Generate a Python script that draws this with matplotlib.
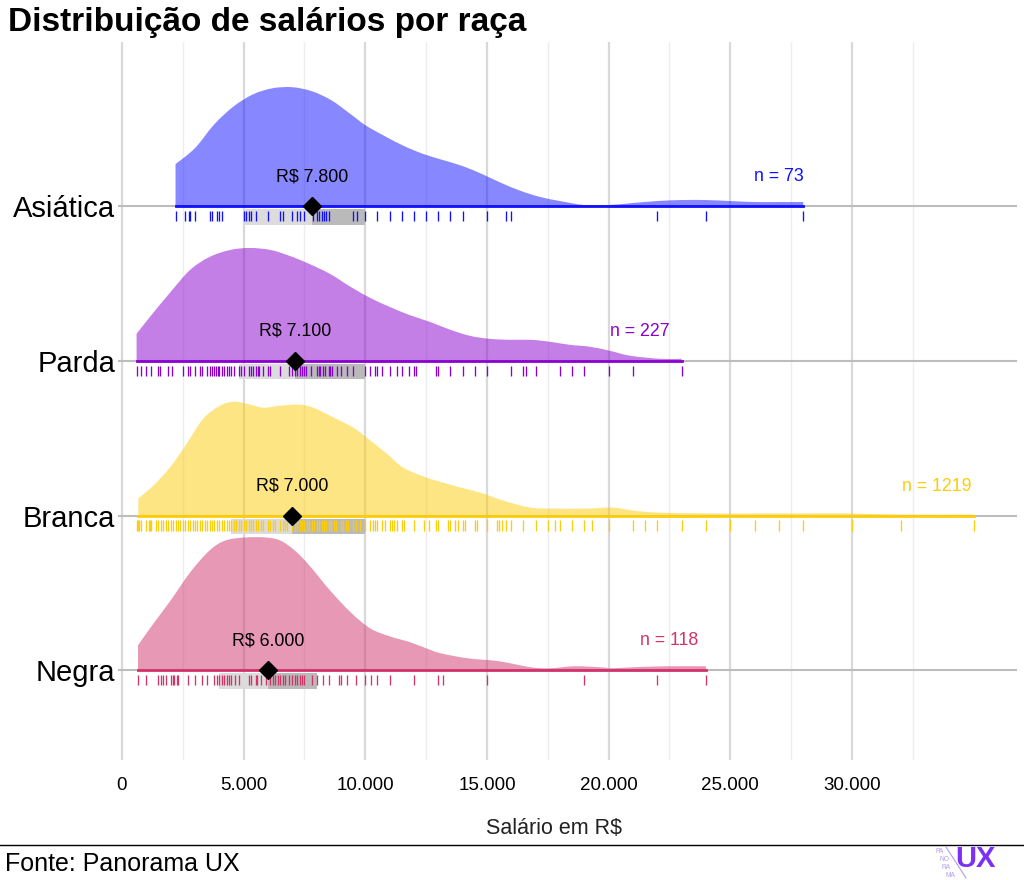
import matplotlib.pyplot as plt
from matplotlib.lines import Line2D
from matplotlib.path import Path
from matplotlib.patches import PathPatch
import numpy as np

plt.rcParams['font.family'] = ['Liberation Sans', 'DejaVu Sans']

# categorias de baixo para cima
racas = ['Negra', 'Branca', 'Parda', 'Asiática']
cores = ['#d1336b', '#fdcc0a', '#8a00d0', '#1010ff']
n_resp = [118, 1219, 227, 73]
medianas = [6000, 7000, 7100, 7800]
q1 = [4000, 4500, 4800, 5000]
q3 = [8000, 10000, 10000, 10000]
n_label_x = [22500, 33500, 21300, 27000]

# curvas de densidade (salário, altura relativa)
dens_x = {
    'Asiática': [2200, 3000, 3800, 4600, 5400, 6200, 7000, 7800, 8600, 9400, 10000, 10800,
                 11600, 12400, 13200, 14000, 14800, 15600, 16400, 17200, 18000, 19000,
                 20000, 21000, 22000, 23000, 24000, 25000, 26000, 27000, 28000],
    'Parda': [600, 1150, 2000, 2800, 3600, 4450, 5250, 6100, 6900, 7700, 8550, 9400, 10200,
              11000, 11800, 12650, 13500, 14300, 15100, 15950, 16800, 17600, 18400, 19250,
              20050, 20900, 22100, 23000],
    'Branca': [670, 1290, 1970, 2660, 3340, 4030, 4580, 5120, 5810, 6490, 7320, 7860, 8550,
               9510, 10060, 10880, 11560, 12520, 13620, 14710, 15670, 16770, 17730, 19100,
               20190, 21000, 22000, 24000, 26000, 28000, 30000, 32000, 35000],
    'Negra': [660, 1150, 2000, 2800, 3600, 4250, 5050, 5900, 6500, 7100, 7700, 8550, 9400,
              10200, 11000, 11850, 12500, 13100, 14200, 15500, 16800, 17600, 18600, 19650,
              20100, 21000, 22400, 24000],
}
dens_y = {
    'Asiática': [42, 58, 82, 100, 112, 118, 119, 115, 106, 92, 81, 70, 60, 52, 46, 40, 32,
                 23, 15, 9, 5, 1, 1, 3, 5, 6, 6, 5, 4, 4, 4],
    'Parda': [27, 44, 69, 91, 104, 111, 113, 111, 105, 97, 87, 74, 63, 54, 46, 39, 31, 25,
              22, 21, 21, 19, 16, 14, 10, 5, 2, 2],
    'Branca': [17, 30, 48, 72, 97, 110, 114, 112, 108, 110, 111, 108, 100, 88, 78, 62, 48,
               38, 30, 23, 15, 8, 7, 7, 8, 5, 3, 2, 2, 2, 2, 1, 1],
    'Negra': [25, 42, 70, 98, 120, 130, 133, 133, 130, 120, 105, 80, 58, 42, 34, 28, 22,
              17, 12, 9, 3, 2, 4, 3, 2, 3, 4, 4],
}

# salários individuais (rug)
rug = {
    'Asiática': [2200, 2600, 2750, 2800, 3000, 3600, 3700, 3900, 4000, 4100, 5000, 5100, 5200,
                 5300, 5500, 6000, 6500, 6600, 7000, 7200, 7300, 7500, 7850, 8000, 8100, 8200,
                 8300, 8400, 8500, 9500, 9650, 10000, 10500, 11000, 11500, 12000, 12500, 13000,
                 13500, 14000, 15000, 15800, 16000, 22000, 24000, 28000],
    'Parda': [600, 800, 1000, 1200, 1500, 1550, 1900, 2050, 2500, 2700, 2800, 3000, 3200,
              3300, 3500, 3600, 3700, 3800, 3850, 3950, 4000, 4100, 4200, 4300, 4400, 4500,
              4600, 4800, 4900, 5000, 5200, 5300, 5400, 5500, 5600, 5650, 5800, 6000, 6100,
              6500, 6850, 7000, 7100, 7200, 7300, 7400, 7500, 7550, 7750, 8000, 8100, 8150,
              8250, 8350, 8500, 8550, 8650, 8850, 9000, 9250, 9500, 10000, 10200, 10400,
              10500, 10700, 11000, 11300, 11500, 11800, 12000, 12100, 12900, 13000, 13500,
              14000, 14500, 15000, 16000, 16500, 16600, 17000, 18000, 18500, 19000, 20000,
              21000, 23000],
    'Branca': [600, 650, 700, 800, 1000, 1100, 1150, 1200, 1400, 1500, 1600, 1700, 1800, 1900,
               2000, 2100, 2200, 2300, 2400, 2500, 2600, 2700, 2800, 2900, 3000, 3100, 3200,
               3300, 3400, 3500, 3600, 3700, 3800, 3900, 4000, 4100, 4200, 4300, 4400, 4500,
               4600, 4700, 4800, 4900, 5000, 5100, 5200, 5300, 5400, 5500, 5600, 5700, 5800,
               6000, 6100, 6200, 6300, 6500, 6600, 6700, 6800, 7000, 7100, 7200, 7300, 7400,
               7500, 7600, 7700, 7800, 7900, 8000, 8100, 8200, 8300, 8400, 8500, 8600, 8700,
               8800, 9000, 9100, 9200, 9300, 9500, 9600, 9800, 10000, 10200, 10300, 10400,
               10500, 10700, 10800, 11000, 11100, 11200, 11300, 11500, 11600, 12000, 12400,
               12600, 12900, 13000, 13400, 13500, 13700, 13800, 14000, 14100, 14500, 14600,
               15000, 15400, 15500, 15600, 15800, 16000, 16500, 17000, 17500, 17800, 18000,
               18500, 19000, 19300, 20000, 21000, 21500, 22000, 23000, 24000, 25000, 26000,
               27000, 28000, 30000, 32000, 35000],
    'Negra': [650, 1000, 1500, 1600, 1700, 1800, 2000, 2100, 2150, 2250, 2300, 2700, 3000,
              3300, 3500, 3800, 3900, 4000, 4100, 4200, 4300, 4400, 4500, 4650, 4800, 5200,
              5300, 5500, 5550, 5700, 5900, 6100, 6200, 6300, 6400, 6500, 6600, 6700, 6850,
              7000, 7100, 7200, 7300, 7400, 7500, 7800, 8000, 8250, 8500, 8900, 9000, 9250,
              9600, 10000, 10250, 10500, 11000, 12000, 13000, 13200, 15000, 19000, 22000,
              24000],
}


def fmt(v):
    return f'{v:,.0f}'.replace(',', '.')


def ridge_path(xs, ys, base):
    # contorno suave (Catmull-Rom -> Bézier) fechado na linha de base
    pts = np.column_stack([xs, base + ys])
    verts = [(xs[0], base), tuple(pts[0])]
    codes = [Path.MOVETO, Path.LINETO]
    n = len(pts)
    for k in range(n - 1):
        p0 = pts[max(k - 1, 0)]
        p1 = pts[k]
        p2 = pts[k + 1]
        p3 = pts[min(k + 2, n - 1)]
        c1 = p1 + (p2 - p0) / 6
        c2 = p2 - (p3 - p1) / 6
        c1[1] = max(c1[1], base)
        c2[1] = max(c2[1], base)
        verts += [tuple(c1), tuple(c2), tuple(p2)]
        codes += [Path.CURVE4] * 3
    verts += [(xs[-1], base), (xs[0], base)]
    codes += [Path.LINETO, Path.CLOSEPOLY]
    return Path(verts, codes)


fig = plt.figure(figsize=(10.24, 8.8), dpi=100)
ax = fig.add_axes([118 / 1024, 120 / 880, 899 / 1024, 718 / 880])

escala = 1 / 155
for i, raca in enumerate(racas):
    base = i + 1
    z = 10 - i
    cor = cores[i]
    xs = np.array(dens_x[raca], dtype=float)
    ys = np.array(dens_y[raca]) * escala
    ax.axhline(base, color='#bdbdbd', lw=1.5, zorder=1)
    ax.add_patch(PathPatch(ridge_path(xs, ys, base), facecolor=cor, alpha=0.5, lw=0, zorder=z))
    ax.plot([xs[0], xs[-1]], [base, base], color=cor, lw=2, zorder=z + 0.1)
    # caixas de quartis
    ax.fill_between([q1[i], medianas[i]], base - 0.02, base - 0.12, color='#dcdcdc', lw=0, zorder=z + 0.2)
    ax.fill_between([medianas[i], q3[i]], base - 0.02, base - 0.12, color='#bababa', lw=0, zorder=z + 0.2)
    ax.vlines(rug[raca], base - 0.032, base - 0.097, color=cor, lw=0.95, zorder=z + 0.3)
    ax.plot(medianas[i], base, marker='D', color='black', markersize=9, zorder=z + 0.5)
    ax.text(medianas[i], base + 0.19, 'R$ ' + fmt(medianas[i]), ha='center', va='center',
            fontsize=12.8, color='black', zorder=20)
    ax.text(n_label_x[i], base + 0.19, f'n = {n_resp[i]}', ha='center', va='center',
            fontsize=12.8, color=cor, zorder=20)

ax.set_xlim(-164, 36785)
ax.set_ylim(0.42, 5.06)
ax.set_yticks([1, 2, 3, 4])
ax.set_yticklabels(racas, fontsize=21)
ticks = [0, 5000, 10000, 15000, 20000, 25000, 30000]
ax.set_xticks(ticks)
ax.set_xticklabels([fmt(v) for v in ticks], fontsize=13.5)
ax.set_xticks([2500, 7500, 12500, 17500, 22500, 27500, 32500], minor=True)
ax.grid(axis='x', which='major', color='#d9d9d9', lw=1.6)
ax.grid(axis='x', which='minor', color='#ededed', lw=1.0)
ax.set_axisbelow(True)
ax.tick_params(which='both', length=0)
ax.tick_params(axis='x', pad=12)
ax.tick_params(axis='y', pad=2)
for s in ax.spines.values():
    s.set_visible(False)
ax.set_xlabel('Salário em R$', fontsize=15.5, color='#222222')
ax.xaxis.set_label_coords(0.485, -68 / 718)
ax.xaxis.label.set_va('center')

fig.text(8 / 1024, 1 - 22 / 880, 'Distribuição de salários por raça', fontsize=24,
         fontweight='bold', ha='left', va='center')
fig.add_artist(Line2D([0, 1], [1 - 845 / 880] * 2, color='black', lw=1))
fig.text(5 / 1024, 1 - 864 / 880, 'Fonte: Panorama UX', fontsize=18, ha='left', va='center')

# logo
fig.text(975 / 1024, 1 - 859 / 880, 'UX', fontsize=21, fontweight='bold', color='#7b2ff7',
         ha='center', va='center')
for k, s in enumerate(['PA', 'NO', 'RA', 'MA']):
    fig.text((936 + k * 3) / 1024, 1 - (851 + k * 8.3) / 880, s, fontsize=4.8,
             color='#b49cf2', ha='left', va='center')
fig.add_artist(Line2D([946 / 1024, 966 / 1024], [1 - 847 / 880, 1 - 878 / 880],
                      color='#b49cf2', lw=0.8))

fig.savefig('out.png', dpi=100)
